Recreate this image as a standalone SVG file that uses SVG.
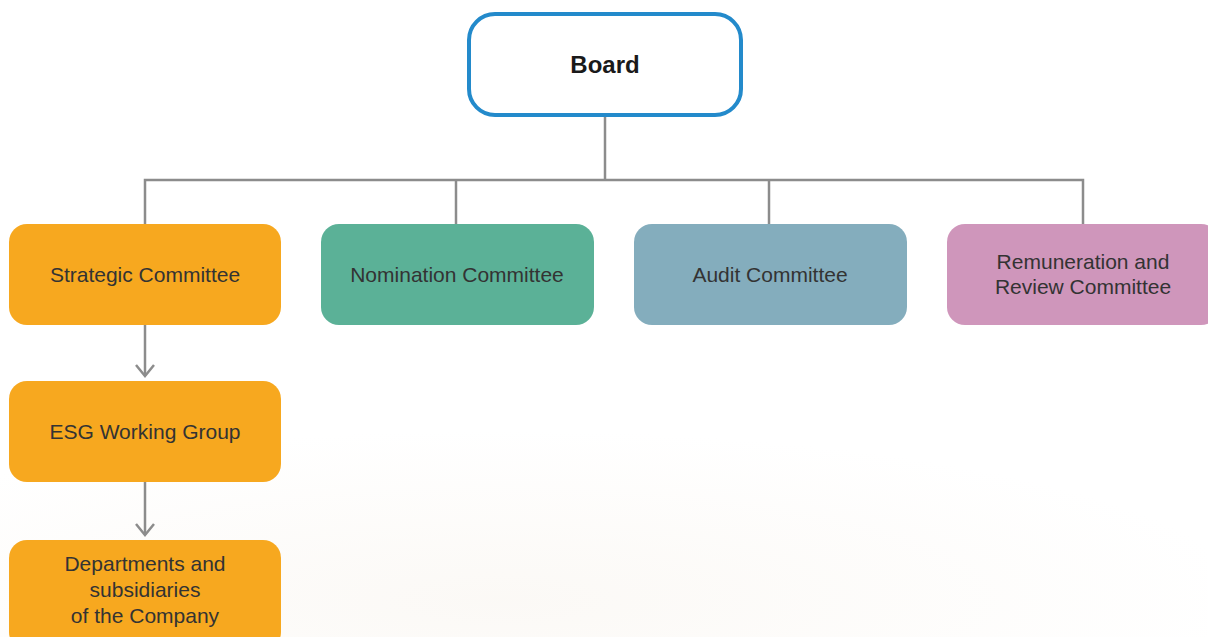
<svg xmlns="http://www.w3.org/2000/svg" width="1208" height="637" viewBox="0 0 1208 637">
  <defs>
    <style>
      .box { stroke: none; }
      .lbl { font-family: "Liberation Sans", Arial, sans-serif; font-size: 21px; fill: #333333; text-anchor: middle; }
      .title { font-family: "Liberation Sans", Arial, sans-serif; font-size: 24px; font-weight: bold; fill: #1a1a1a; text-anchor: middle; }
      .wire { fill: none; stroke: #8c8c8c; stroke-width: 2.5; }
    </style>
    <marker id="chev" viewBox="0 0 14 20" refX="12" refY="10" markerWidth="14" markerHeight="20" markerUnits="userSpaceOnUse" orient="auto">
      <path d="M1,1 L12,10 L1,19" fill="none" stroke="#8c8c8c" stroke-width="2.5"/>
    </marker>
    <radialGradient id="haze" cx="0.5" cy="0.5" r="0.5">
      <stop offset="0" stop-color="#f3ebe0" stop-opacity="0.3"/>
      <stop offset="1" stop-color="#f3ebe0" stop-opacity="0"/>
    </radialGradient>
  </defs>

  <rect width="1208" height="637" fill="#ffffff"/>
  <!-- soft warm wash in the lower part of the page -->
  <ellipse cx="500" cy="600" rx="750" ry="170" fill="url(#haze)"/>

  <!-- connectors -->
  <g id="connectors">
    <path class="wire" d="M605,117 V180"/>
    <path class="wire" d="M145,224 V180 H1083 V224"/>
    <path class="wire" d="M456,180 V224"/>
    <path class="wire" d="M769,180 V224"/>
    <path class="wire" d="M145,325 V376" marker-end="url(#chev)"/>
    <path class="wire" d="M145,482 V535" marker-end="url(#chev)"/>
  </g>

  <g id="board">
    <rect x="469" y="14" width="272" height="101" rx="26" fill="#ffffff" stroke="#238acb" stroke-width="4"/>
    <text class="title" x="605" y="73">Board</text>
  </g>

  <g id="strategic-committee">
    <rect class="box" x="9" y="224" width="272" height="101" rx="18" fill="#f7a81f"/>
    <text class="lbl" x="145" y="282">Strategic Committee</text>
  </g>

  <g id="nomination-committee">
    <rect class="box" x="321" y="224" width="273" height="101" rx="18" fill="#5bb197"/>
    <text class="lbl" x="457" y="282">Nomination Committee</text>
  </g>

  <g id="audit-committee">
    <rect class="box" x="634" y="224" width="273" height="101" rx="18" fill="#84adbd"/>
    <text class="lbl" x="770" y="282">Audit Committee</text>
  </g>

  <g id="remuneration-committee">
    <rect class="box" x="947" y="224" width="272" height="101" rx="18" fill="#cf96bb"/>
    <text class="lbl" x="1083" y="269">Remuneration and</text>
    <text class="lbl" x="1083" y="294">Review Committee</text>
  </g>

  <g id="esg-working-group">
    <rect class="box" x="9" y="381" width="272" height="101" rx="18" fill="#f7a81f"/>
    <text class="lbl" x="145" y="439">ESG Working Group</text>
  </g>

  <g id="departments">
    <rect class="box" x="9" y="540" width="272" height="110" rx="18" fill="#f7a81f"/>
    <text class="lbl" x="145" y="571">Departments and</text>
    <text class="lbl" x="145" y="597">subsidiaries</text>
    <text class="lbl" x="145" y="623">of the Company</text>
  </g>
</svg>
